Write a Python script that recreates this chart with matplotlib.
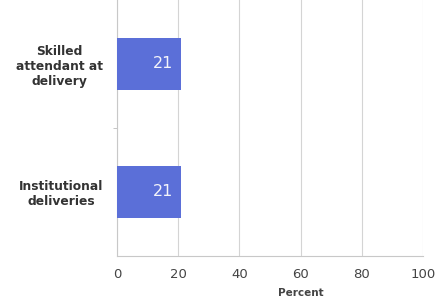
import numpy as np
import matplotlib.pyplot as plt

categories = ["Skilled\nattendant at\ndelivery", "Institutional\ndeliveries"]
values = [21, 21]
xticks = [0, 20, 40, 60, 80, 100]

fig = plt.figure(figsize=(4.37, 2.98), dpi=100)
ax = fig.add_axes([0.268, 0.141, 0.700, 0.859])

y = np.arange(len(categories))
ax.barh(y, values, height=0.4, color="#5b6fd8", zorder=3)
for yi, v in zip(y, values):
    ax.text(v - 2.5, yi, str(v), color="#f4f4fa", fontsize=11.5,
            ha="right", va="center", zorder=4)

ax.set_xlim(0, 100)
ax.set_ylim(1.5, -0.5)
ax.set_xticks(xticks)
ax.set_xticklabels([str(t) for t in xticks], fontsize=9.5, color="#444444")
ax.tick_params(axis="x", length=0, pad=9)
ax.set_yticks(y)
ax.set_yticklabels(categories, fontsize=8.8, color="#333333",
                   fontweight="bold", multialignment="center")
ax.tick_params(axis="y", length=0, pad=10)
ax.set_yticks([0.5], minor=True)
ax.tick_params(axis="y", which="minor", length=3, color="#bbbbbb")

ax.grid(axis="x", color="#d4d4d4", linewidth=0.8, zorder=0)
for s in ["top", "right"]:
    ax.spines[s].set_visible(False)
ax.spines["left"].set_color("#c8c8c8")
ax.spines["bottom"].set_color("#c8c8c8")

# axis title sits under the 60 tick in the original
ax.text(0.6, -0.145, "Percent", transform=ax.transAxes, fontsize=7.5,
        fontweight="bold", color="#444444", ha="center", va="center")

fig.savefig("out.png", dpi=100)
